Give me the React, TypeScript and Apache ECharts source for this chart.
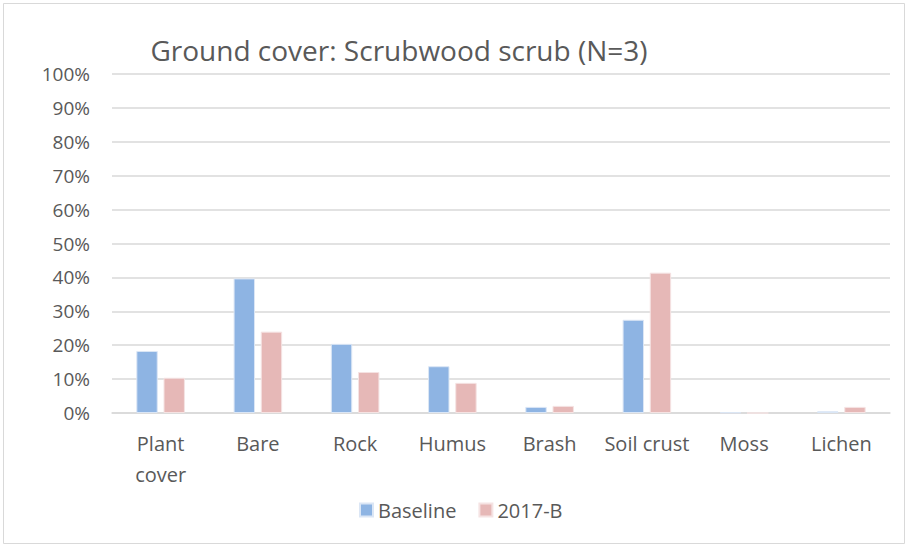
import React, { useEffect, useRef } from "react";
import * as echarts from "echarts";

const categories = ["Plant\ncover", "Bare", "Rock", "Humus", "Brash", "Soil crust", "Moss", "Lichen"];
const baseline = [18.3, 39.7, 20.4, 13.8, 1.8, 27.5, 0.2, 0.5];
const y2017B = [10.4, 24.0, 12.1, 8.9, 2.1, 41.4, 0, 1.8];
const seriesNames = ["Baseline", "2017-B"];
const titleText = "Ground cover: Scrubwood scrub (N=3)";

export default function App() {
  const ref = useRef<HTMLDivElement>(null);
  useEffect(() => {
    if (!ref.current) return;
    const chart = echarts.init(ref.current, null, { renderer: "svg" });
    const font = "'Open Sans', 'Liberation Sans', sans-serif";
    chart.setOption({
      animation: false,
      backgroundColor: "#ffffff",
      title: {
        text: titleText,
        left: 394,
        textAlign: "center",
        top: 31,
        textStyle: { fontFamily: font, fontSize: 28, fontWeight: "normal", color: "#595959" },
      },
      graphic: [
        {
          type: "rect",
          shape: { x: 3.5, y: 3.5, width: 901, height: 540 },
          style: { fill: "none", stroke: "#d9d9d9", lineWidth: 1 },
          silent: true,
        },
      ],
      legend: {
        data: seriesNames,
        left: 354,
        top: 495,
        itemWidth: 13,
        itemHeight: 13,
        itemGap: 22,
        icon: "rect",
        textStyle: { fontFamily: font, fontSize: 20, color: "#595959" },
      },
      grid: { left: 112, right: 19, top: 74, bottom: 134, containLabel: false },
      xAxis: {
        type: "category",
        data: categories,
        axisLine: { lineStyle: { color: "#d9d9d9", width: 1.5 } },
        axisTick: { show: false },
        axisLabel: {
          fontFamily: font,
          fontSize: 20,
          color: "#595959",
          lineHeight: 31,
          margin: 15,
          interval: 0,
        },
      },
      yAxis: {
        type: "value",
        min: 0,
        max: 100,
        interval: 10,
        axisLine: { show: false },
        axisTick: { show: false },
        splitLine: { lineStyle: { color: "#d9d9d9", width: 1.5 } },
        axisLabel: {
          fontFamily: font,
          fontSize: 19,
          color: "#595959",
          margin: 22,
          formatter: (v: number) => v + "%",
        },
      },
      series: [
        {
          name: seriesNames[0],
          type: "bar",
          data: baseline,
          barWidth: "22%",
          barGap: "27%",
          itemStyle: { color: "#8eb4e3", borderColor: "#dbe6f5", borderWidth: 1 },
        },
        {
          name: seriesNames[1],
          type: "bar",
          data: y2017B,
          barWidth: "22%",
          itemStyle: { color: "#e6b8b7", borderColor: "#f5e3e3", borderWidth: 1 },
        },
      ],
    });
    return () => chart.dispose();
  }, []);
  return (
    <div
      ref={ref}
      style={{ position: "fixed", left: 0, top: 0, width: 909, height: 547 }}
    />
  );
}
